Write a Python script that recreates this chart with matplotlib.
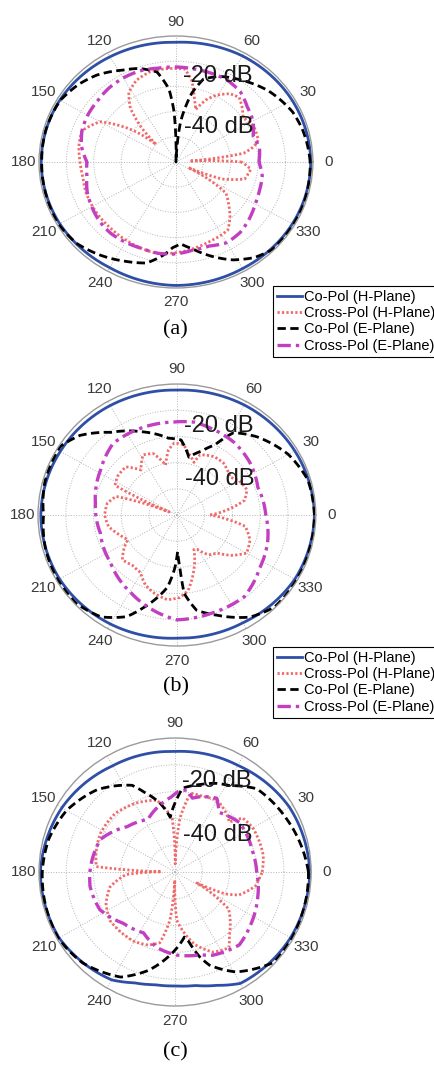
import numpy as np
import matplotlib
matplotlib.use('Agg')
import matplotlib.pyplot as plt

plt.rcParams['font.family'] = ['Liberation Sans', 'DejaVu Sans']

# ---- panel (a) ----
blue_a_ang = [0, 30, 60, 90, 120, 150, 180, 210, 240, 270, 300, 330, 360]
blue_a_db = [-0.8, -1.0, -1.4, -2.5, -1.8, -1.0, -0.8, -1.0, -1.6, -1.0, -1.2, -0.9, -0.8]

red_a_ang = [0, 4, 8, 12, 16, 26, 36, 42, 48, 54, 61, 66, 71, 75, 80, 85, 95, 105, 114, 122,
             128, 133, 136, 140, 143, 150, 160, 170, 180, 190, 200, 215, 228, 240, 250, 259,
             270, 280, 290, 305, 312, 318, 326, 330, 334, 338, 345, 354, 360]
red_a_db = [-26, -45, -25, -21, -18.7, -18.3, -19.7, -17.5, -15.5, -16.5, -19.7, -23, -28, -24,
            -17, -13, -12.8, -13, -14.5, -17.5, -23, -32, -40, -32, -27.5, -18, -13.5, -14,
            -15, -15.5, -15, -14.7, -14.5, -14, -13.5, -13, -14, -15, -16, -17, -20.5, -24,
            -28, -36, -45, -32, -24, -22.5, -26]

black_a_ang = [0, 15, 25, 40, 55, 65, 73, 78, 84, 88, 90, 92, 95, 101, 110, 118, 130, 139,
               150, 165, 180, 195, 210, 222, 233, 245, 255, 263, 268, 273, 280, 290, 298,
               307, 315, 328, 340, 350, 360]
black_a_db = [-1, -2, -3, -6, -10, -12.5, -15.6, -22, -34, -50, -42, -30, -21, -13.6, -10.5,
              -8.7, -5, -3, -1.2, -0.8, -1, -0.8, -0.5, -1.5, -3.8, -6.5, -8.5, -12.8, -16,
              -17.5, -15, -10, -6, -2.5, -0.6, -0.5, -0.5, -0.8, -1]

mag_a_ang = list(range(0, 370, 10))
mag_a_db = [-19.7, -19, -20, -17.5, -16, -13.5, -12.5, -12.5, -12.5, -12.3, -12.2, -11.5,
            -11.5, -11.8, -12.5, -12.8, -13.5, -15, -17.5, -17, -15.5, -14.5, -13.5, -13,
            -13.2, -13.5, -13.2, -13.5, -14.5, -14.5, -13, -13.5, -15, -16.6, -17.5, -18, -19.7]

# ---- panel (b) ----
blue_b_ang = [0, 30, 60, 90, 120, 150, 180, 210, 240, 270, 300, 330, 360]
blue_b_db = [-0.5, -1, -1.5, -2.3, -1.8, -1.5, -1, -1.2, -2, -3, -2.5, -1, -0.5]

red_b_ang = [0, 13, 21, 30, 37, 50, 59, 70, 73, 80, 85, 92, 97, 102, 110, 118, 127, 135, 145,
             153, 157, 162, 170, 180, 190, 200, 208, 214, 221, 230, 239, 247, 255, 264, 272,
             278, 286, 295, 299, 307, 315, 322, 330, 340, 350, 355, 360]
red_b_db = [-38, -25, -23, -24, -26, -24, -24, -25.5, -29, -26, -23, -22.5, -25, -30.5, -25,
            -24, -28.5, -24, -24, -25, -47, -27, -24.5, -24, -25, -28, -30, -27, -24, -25,
            -24.5, -21, -19, -17.5, -18.5, -21, -28, -35.5, -35, -31, -29.5, -25, -21, -22,
            -25, -32, -38]

black_b_ang = [0, 16, 30, 46, 57, 63, 70, 79, 87, 96, 112, 127, 139, 148, 165, 180, 195, 209,
               223, 235, 245, 251, 263, 268, 271, 273, 275, 281, 291, 304, 315, 330, 345, 360]
black_b_db = [-0.5, -1, -3.7, -8.5, -12.5, -20, -24, -27.5, -21.3, -20.5, -15.7, -10.5, -3.7,
              -0.5, -0.8, -2, -1, -0.5, -0.5, -2.5, -7.2, -12.5, -22.3, -30, -36, -30, -20,
              -13, -9, -3, -0.3, -0.3, -0.5, -0.5]

mag_b_ang = [0, 20, 37, 53, 70, 80, 92, 110, 130, 148, 171, 194, 217, 241, 260, 270, 288,
             308, 326, 342, 360]
mag_b_db = [-18, -19, -17, -15.5, -14.7, -14, -14.5, -14.4, -14.3, -17.6, -20.3, -21.6, -20,
            -16, -12, -10, -10.5, -10.5, -14, -15.7, -18]

# ---- panel (c) ----
blue_c_ang = [0, 30, 60, 90, 120, 150, 180, 210, 240, 250, 260, 270, 280, 290, 300, 330, 360]
blue_c_db = [-0.5, -1.5, -4, -5, -4.2, -2, -0.5, -0.8, -3.5, -6, -7.3, -7.5, -7, -5, -2,
             -1, -0.5]

red_c_ang = [0, 11, 30, 39, 43, 50, 60, 70, 79, 85, 89, 93, 104, 118, 135, 152, 165, 176,
             179, 183, 193, 205, 217, 239, 250, 258, 264, 268, 272, 285, 295, 305, 310, 325,
             333, 336, 340, 350, 360]
red_c_db = [-18, -17, -17, -18, -22.7, -21, -19, -20, -20, -30, -47, -30, -22.4, -20.7, -19,
            -19, -20, -21, -45, -32, -25.5, -22, -20, -20, -21, -23, -32, -47, -32, -22, -17,
            -15.5, -19, -26, -41, -30, -25, -20, -18]

black_c_ang = [0, 26, 46, 58, 65, 74, 85, 88, 95, 102, 111, 116, 133, 150, 165, 180, 195, 210,
               225, 243, 255, 265, 278, 281, 286, 290, 301, 317, 330, 345, 360]
black_c_db = [-1, -4.5, -6.8, -12, -13.5, -16, -18.6, -22, -29.5, -23.8, -18, -14, -8, -4,
              -2, -1.2, -0.8, -0.5, -2, -6, -12, -18, -25.5, -23.5, -17, -13, -6.5, -0.5,
              -0.5, -0.8, -1]

mag_c_ang = [0, 15, 38, 54, 61, 70, 77, 82, 88, 93, 105, 117, 136, 156, 180, 190, 207, 225,
             243, 257, 271, 287, 294, 311, 325, 341, 360]
mag_c_db = [-20, -20.5, -20, -22.5, -18.5, -20, -21.7, -19, -20, -22, -25, -28, -25.6, -20,
            -18.7, -18.3, -19, -23, -24.5, -21, -19, -17.7, -16, -14, -16, -18, -20]

labels = ['Co-Pol (H-Plane)', 'Cross-Pol (H-Plane)', 'Co-Pol (E-Plane)', 'Cross-Pol (E-Plane)']
theta_ticks = list(range(0, 360, 30))
r_rings = [-40, -30, -20, -10]


def polar_line(ax, ang, db, **kw):
    line, = ax.plot(np.deg2rad(ang), db, **kw)
    # let the polar transform bend each segment along theta
    line.get_path()._interpolation_steps = 40
    return line


def draw_panel(ax, blue, red, black, mag):
    ax.set_aspect('auto')
    lines = [
        polar_line(ax, *blue, color='#2f4ea6', lw=2.0),
        polar_line(ax, *red, color='#f06a6a', lw=2.0, linestyle=(0, (0.8, 0.8))),
        polar_line(ax, *black, color='black', lw=2.0, linestyle=(0, (3, 1.6))),
        polar_line(ax, *mag, color='#c23fc2', lw=2.4, linestyle=(0, (4, 1.5, 1, 1.5))),
    ]
    ax.set_ylim(-50, 0)
    ax.set_yticks(r_rings)
    ax.set_yticklabels([])
    ax.set_thetagrids(theta_ticks, labels=[''] * len(theta_ticks))
    # angle labels sit a little outside the rim, MATLAB style
    for t in theta_ticks:
        ax.text(np.deg2rad(t), 5.6, str(t), fontsize=11, color='#3a3a3a',
                ha='center', va='center', clip_on=False)
    ax.grid(True, color='#b5b5b5', linestyle=':', linewidth=0.7)
    ax.spines['polar'].set_color('#9a9a9a')
    ax.spines['polar'].set_linewidth(1.0)
    ax.text(np.deg2rad(85), -20, '-20 dB', fontsize=17, ha='left', va='bottom',
            color='#1a1a1a', zorder=10)
    ax.text(np.deg2rad(73), -40, '-40 dB', fontsize=17, ha='left', va='bottom',
            color='#1a1a1a', zorder=10)
    return lines


fig = plt.figure(figsize=(4.34, 10.65), dpi=100)

ax_a = fig.add_axes([0.0899, 0.7296, 0.631, 0.2366], projection='polar')
ax_b = fig.add_axes([0.0876, 0.3934, 0.640, 0.2460], projection='polar')
ax_c = fig.add_axes([0.0899, 0.0554, 0.627, 0.2516], projection='polar')

lines_a = draw_panel(ax_a, (blue_a_ang, blue_a_db), (red_a_ang, red_a_db),
                     (black_a_ang, black_a_db), (mag_a_ang, mag_a_db))
lines_b = draw_panel(ax_b, (blue_b_ang, blue_b_db), (red_b_ang, red_b_db),
                     (black_b_ang, black_b_db), (mag_b_ang, mag_b_db))
lines_c = draw_panel(ax_c, (blue_c_ang, blue_c_db), (red_c_ang, red_c_db),
                     (black_c_ang, black_c_db), (mag_c_ang, mag_c_db))

for ypos in [0.6648, 0.3258]:
    leg = fig.legend(lines_a, labels, loc='lower left', bbox_to_anchor=(0.629, ypos),
                     fontsize=10.5, frameon=True, fancybox=False, framealpha=1,
                     edgecolor='black', handlelength=1.7, handletextpad=0.15,
                     labelspacing=0.15, borderpad=0.3, borderaxespad=0)
    leg.get_frame().set_linewidth(0.8)

fig.text(0.405, 0.690, '(a)', fontsize=16, family='Liberation Serif', ha='center', va='center')
fig.text(0.405, 0.3555, '(b)', fontsize=16, family='Liberation Serif', ha='center', va='center')
fig.text(0.403, 0.0125, '(c)', fontsize=16, family='Liberation Serif', ha='center', va='center')

fig.savefig('out.png', dpi=100)
